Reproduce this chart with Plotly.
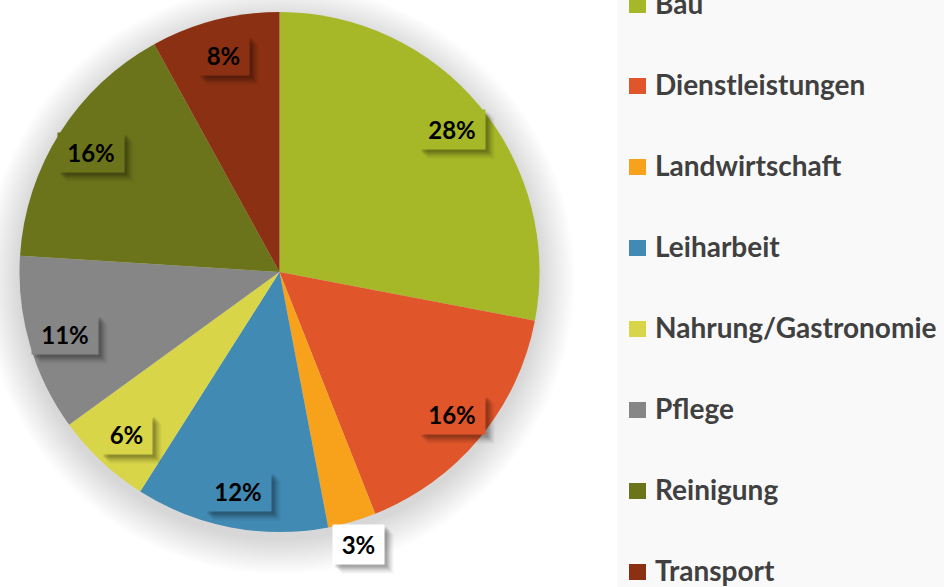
import math
import plotly.graph_objects as go

categories = ["Bau", "Dienstleistungen", "Landwirtschaft", "Leiharbeit",
              "Nahrung/Gastronomie", "Pflege", "Reinigung", "Transport"]
values = [28, 16, 3, 12, 6, 11, 16, 8]
labels = ["28%", "16%", "3%", "12%", "6%", "11%", "16%", "8%"]
colors = ["#a6b727", "#e0552a", "#f8a11a", "#418ab3",
          "#d8d548", "#868686", "#6b741a", "#8b3012"]

W, H = 944, 587
CX, CY, R = 279.5, 272.0, 260.0  # pie centre / radius in pixels


def px(x):
    return x / W


def py(y):
    return 1 - y / H


fig = go.Figure()
fig.add_trace(go.Pie(
    labels=categories, values=values, sort=False, direction="clockwise",
    rotation=0, textinfo="none", hoverinfo="label+percent",
    marker=dict(colors=colors, line=dict(width=0)),
    domain=dict(x=[px(CX - R), px(CX + R)], y=[py(CY + R), py(CY - R)]),
    showlegend=False,
))

shapes = []
# legend background
shapes.append(dict(type="rect", xref="paper", yref="paper", x0=px(617), x1=1,
                   y0=0, y1=1, fillcolor="#f9f9f9", line=dict(width=0), layer="below"))
# soft pie shadow
for i in range(20):
    rr = R + 1 + i * 1.8
    oy = 7
    shapes.append(dict(type="circle", xref="paper", yref="paper",
                       x0=px(CX - rr), x1=px(CX + rr),
                       y0=py(CY + oy + rr), y1=py(CY + oy - rr),
                       fillcolor="rgba(0,0,0,0.009)", line=dict(width=0), layer="below"))

annotations = []
total = sum(values)
cum = 0
for lab, v, col in zip(labels, values, colors):
    mid = (cum + v / 2) / total * 2 * math.pi
    cum += v
    k = 1.09 if v / total < 0.05 else 0.86
    x = CX + k * R * math.sin(mid)
    y = CY - k * R * math.cos(mid)
    bg = "#ffffff" if k > 1 else col
    bw = 21 + 15 * len(lab)
    bh = 39
    for s, a in [(9, 0.05), (7, 0.08), (5, 0.12), (3, 0.14)]:
        annotations.append(dict(
            x=px(x), y=py(y), xref="paper", yref="paper", showarrow=False,
            xanchor="center", yanchor="middle", width=bw, height=bh,
            text="", xshift=s, yshift=-s, bgcolor=f"rgba(0,0,0,{a})",
            borderpad=0,
        ))
    annotations.append(dict(
        x=px(x), y=py(y), xref="paper", yref="paper", showarrow=False,
        xanchor="center", yanchor="middle", width=bw, height=bh,
        text=f"<b>{lab}</b>", bgcolor=bg, borderpad=0,
        font=dict(family="Lato", size=24, color="#000000"),
    ))

# manual legend
for i, (cat, col) in enumerate(zip(categories, colors)):
    yc = 3 + 81 * i
    shapes.append(dict(type="rect", xref="paper", yref="paper",
                       x0=px(629), x1=px(646), y0=py(yc + 10), y1=py(yc - 6),
                       fillcolor=col, line=dict(width=0)))
    annotations.append(dict(
        x=px(653), y=py(yc), xref="paper", yref="paper", showarrow=False,
        xanchor="left", yanchor="middle", text=f"<b>{cat}</b>",
        font=dict(family="Lato", size=28, color="#404040"),
    ))

fig.update_layout(
    width=W, height=H, margin=dict(l=0, r=0, t=0, b=0),
    paper_bgcolor="#ffffff", plot_bgcolor="#ffffff",
    shapes=shapes, annotations=annotations, showlegend=False,
)
fig.write_html("out.html", config={"displayModeBar": False},
               post_script="document.body.style.margin='0';")
